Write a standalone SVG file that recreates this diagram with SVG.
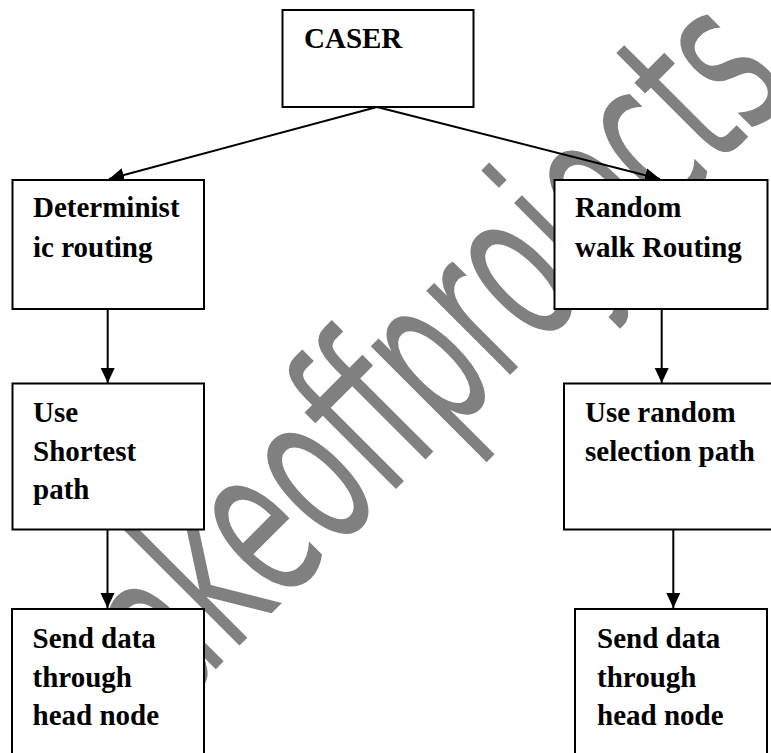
<svg xmlns="http://www.w3.org/2000/svg" width="771" height="753" viewBox="0 0 771 753">
<style>
.box{fill:#fff;stroke:#000;stroke-width:2}
.lbl{font-family:"Liberation Serif","Times New Roman",serif;font-weight:bold;font-size:29px;fill:#000}
.wm{font-family:"DejaVu Sans","Liberation Sans",sans-serif;font-size:217px;fill:#808080}
.edge{stroke:#000;stroke-width:2;fill:none;marker-end:url(#ah)}
</style>
<defs>
<marker id="ah" markerUnits="userSpaceOnUse" markerWidth="16" markerHeight="16" viewBox="0 0 16 16" refX="15" refY="8" orient="auto">
<path d="M0,1 L15,8 L0,15 Z" fill="#000"/>
</marker>
</defs>
<rect width="771" height="753" fill="#fff"/>
<g id="watermark">
<text class="wm" transform="translate(92.8,792.2) rotate(-45) scale(0.57,1)">makeoffprojects</text>
</g>
<g id="connectors">
<line class="edge" x1="377" y1="107" x2="109" y2="179"/>
<line class="edge" x1="377" y1="107" x2="660" y2="179"/>
<line class="edge" x1="107.7" y1="310" x2="107.7" y2="383"/>
<line class="edge" x1="661.7" y1="310" x2="661.7" y2="383"/>
<line class="edge" x1="107.5" y1="530" x2="107.5" y2="608"/>
<line class="edge" x1="673.3" y1="530" x2="673.3" y2="608"/>
</g>
<g id="caser">
<rect class="box" x="282.5" y="10" width="191" height="97"/>
<text class="lbl" x="304" y="48.3">CASER</text>
</g>
<g id="deterministic">
<rect class="box" x="12.5" y="180" width="191.5" height="129"/>
<text class="lbl" x="33" y="216.7">Determinist</text>
<text class="lbl" x="33" y="257">ic routing</text>
</g>
<g id="random">
<rect class="box" x="554.5" y="180" width="213" height="129"/>
<text class="lbl" x="575" y="216.7">Random</text>
<text class="lbl" x="575" y="257">walk Routing</text>
</g>
<g id="shortest">
<rect class="box" x="12.5" y="383.5" width="191.5" height="146"/>
<text class="lbl" x="33" y="421.7">Use</text>
<text class="lbl" x="33" y="460.5">Shortest</text>
<text class="lbl" x="33" y="499">path</text>
</g>
<g id="randomsel">
<rect class="box" x="564" y="383.5" width="220" height="146"/>
<text class="lbl" x="585" y="421.7">Use random</text>
<text class="lbl" x="585" y="461">selection path</text>
</g>
<g id="sendleft">
<rect class="box" x="12" y="609" width="192" height="170"/>
<text class="lbl" x="32.5" y="647.7">Send data</text>
<text class="lbl" x="32.5" y="686.5">through</text>
<text class="lbl" x="32.5" y="725">head node</text>
</g>
<g id="sendright">
<rect class="box" x="575" y="609" width="192" height="170"/>
<text class="lbl" x="597" y="647.7">Send data</text>
<text class="lbl" x="597" y="686.5">through</text>
<text class="lbl" x="597" y="725">head node</text>
</g>
</svg>
